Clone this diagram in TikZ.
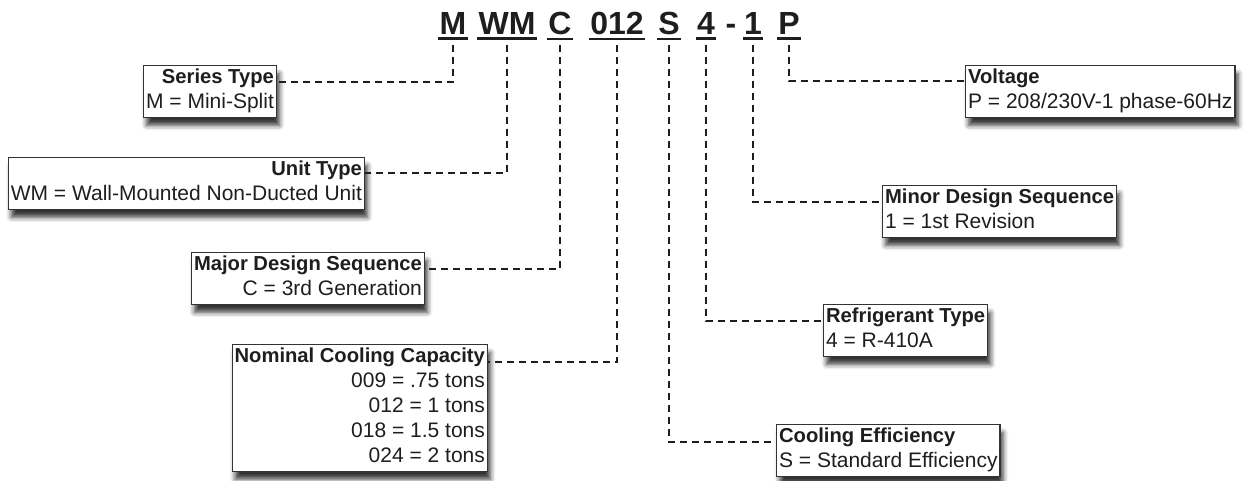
\documentclass[tikz,border=0pt]{standalone}
\usepackage{fontspec}
\setmainfont{Liberation Sans}
\usetikzlibrary{shadows.blur}
\definecolor{ink}{HTML}{1E1E1E}
\definecolor{boxc}{HTML}{333333}
\newcommand\boxtitle[1]{{\fontsize{20.2}{25}\bfseries\selectfont #1}}
\begin{document}
\begin{tikzpicture}[x=1pt,y=-1pt,
  code/.style={font=\fontsize{32}{32}\bfseries\selectfont, text=ink, inner xsep=1pt, inner ysep=3.5pt, anchor=base},
  uline/.style={line width=2.6pt, draw=ink},
  conn/.style={draw=ink, line width=2pt, dash pattern=on 7pt off 5pt},
  infobox/.style={draw=boxc, line width=1.2pt, fill=white, inner xsep=2.5pt, inner ysep=3pt,
    font=\fontsize{21}{25}\selectfont, text=ink,
    execute at begin node={\rule{0pt}{19pt}}, execute at end node={\rule[-6pt]{0pt}{6pt}},
    blur shadow={shadow xshift=3pt, shadow yshift=-8pt, shadow blur radius=5pt, shadow opacity=80}},
  lbox/.style={infobox, align=right, anchor=north east},
  rbox/.style={infobox, align=left, anchor=north west},
]
\useasboundingbox (0,0) rectangle (1254,481);

% code letters
\node[code] (cM)  at (453,35) {M};
\node[code] (cWM) at (507,35) {WM};
\node[code] (cC)  at (560,35) {C};
\node[code] (cN)  at (617,35) {012};
\node[code] (cS)  at (669,35) {S};
\node[code] (cR)  at (706,35) {4};
\node[code] (cD)  at (731,35) {-};
\node[code] (cMi) at (753,35) {1};
\node[code] (cP)  at (789,35) {P};
\foreach \n in {cM,cWM,cC,cN,cS,cR,cMi,cP}
  \draw[uline] (\n.south west) -- (\n.south east);

% boxes, left
\node[lbox] (series) at (277,65) {\boxtitle{Series Type}\\M = Mini-Split};
\node[lbox] (unit) at (365,157) {\boxtitle{Unit Type}\\WM = Wall-Mounted Non-Ducted Unit};
\node[lbox] (major) at (425,252) {\boxtitle{Major Design Sequence}\\C = 3rd Generation};
\node[lbox] (nominal) at (488,344) {\boxtitle{Nominal Cooling Capacity}\\009 = .75 tons\\012 = 1 tons\\018 = 1.5 tons\\024 = 2 tons};

% boxes, right
\node[rbox] (volt) at (965,65) {\boxtitle{Voltage}\\P = 208/230V-1 phase-60Hz};
\node[rbox] (minor) at (882,185) {\boxtitle{Minor Design Sequence}\\1 = 1st Revision};
\node[rbox] (refr) at (823,304) {\boxtitle{Refrigerant Type}\\4 = R-410A};
\node[rbox] (eff) at (776,424) {\boxtitle{Cooling Efficiency}\\S = Standard Efficiency};

% connectors
\draw[conn] ([yshift=-6pt]cM.south)  |- ([yshift=-17pt]series.north east);
\draw[conn] ([yshift=-6pt]cWM.south) |- ([yshift=-16pt]unit.north east);
\draw[conn] ([yshift=-6pt]cC.south)  |- ([yshift=-17pt]major.north east);
\draw[conn] ([yshift=-6pt]cN.south)  |- ([yshift=-18pt]nominal.north east);
\draw[conn] ([yshift=-6pt]cP.south)  |- ([yshift=-16pt]volt.north west);
\draw[conn] ([yshift=-6pt]cMi.south) |- ([yshift=-17pt]minor.north west);
\draw[conn] ([yshift=-6pt]cR.south)  |- ([yshift=-17pt]refr.north west);
\draw[conn] ([yshift=-6pt]cS.south)  |- ([yshift=-18pt]eff.north west);
\end{tikzpicture}
\end{document}
